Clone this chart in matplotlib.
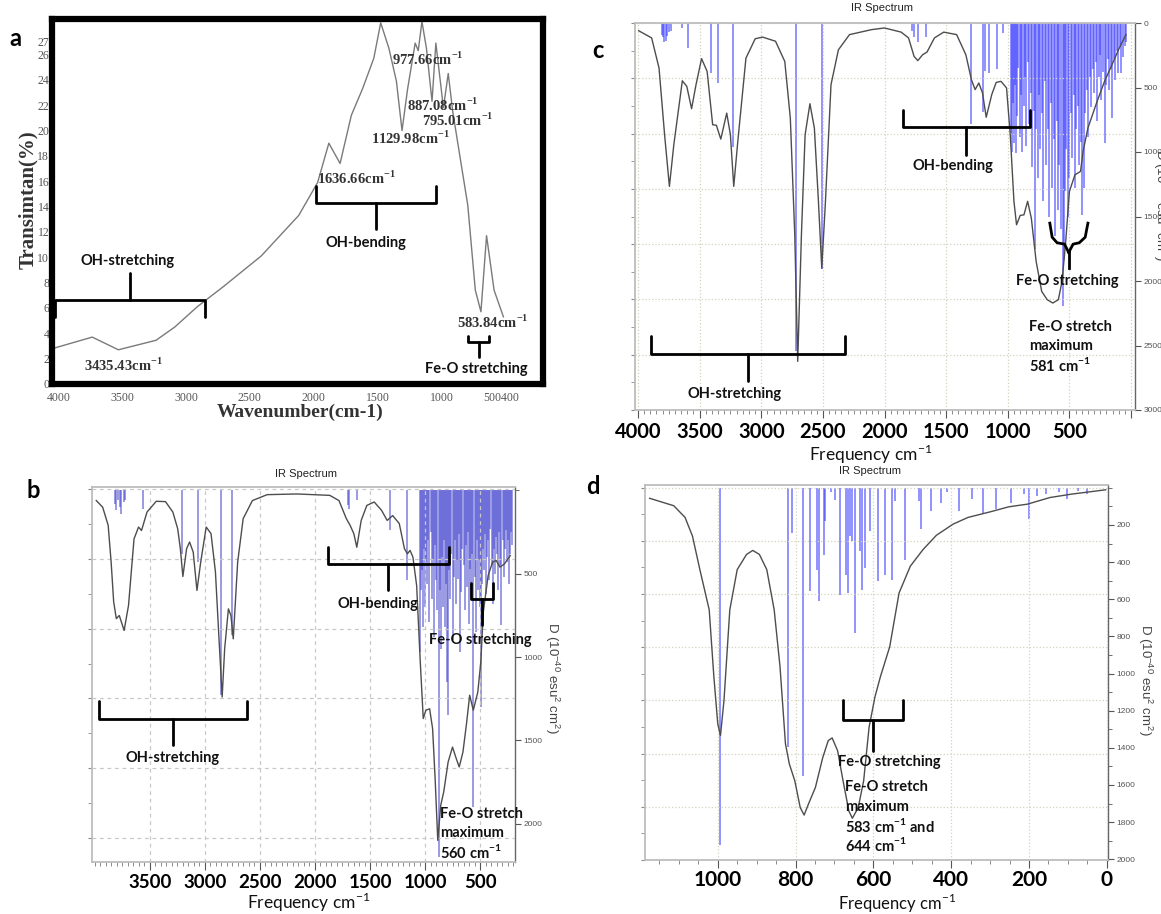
#FTIR spectrum (a) and three calculated IR spectra (b, c, d) laid out in a 2x2 figure

import numpy as np
import matplotlib
matplotlib.use("Agg")
from matplotlib import pyplot as plt
from matplotlib.ticker import MultipleLocator


#Figure size in pixels
W, H = 1161, 914

SANS = ["Lato", "DejaVu Sans"]
SERIF = ["Liberation Serif", "DejaVu Serif"]
ARIAL = ["Liberation Sans", "DejaVu Sans"]
SUP1 = r"$^{\mathregular{-1}}$"


#Panel a: measured transmittance (%) against wavenumber
a_wn = [4044, 3735, 3530, 3235, 3088, 2912, 2706, 2412, 2118, 1970, 1882, 1794, 1706, 1618, 1530,
        1476, 1412, 1353, 1309, 1265, 1206, 1182, 1153, 1118, 1074, 1044, 985, 947, 912, 794,
        735, 691, 647, 588, 515]
a_T = [2.8, 3.7, 2.7, 3.45, 4.5, 6.1, 7.7, 10.1, 13.3, 15.9, 19.0, 17.4, 21.2, 23.3, 25.7,
       28.5, 26.5, 23.9, 20.0, 23.3, 26.9, 26.3, 28.6, 26.5, 22.3, 26.9, 21.8, 24.5, 21.5, 14.1,
       7.4, 5.7, 11.7, 7.4, 5.3]
a_xticks = [4000, 3500, 3000, 2500, 2000, 1500, 1000, 530]
a_xticklabels = ["4000", "3500", "3000", "2500", "2000", "1500", "1000", "500400"]
a_yticks = [0, 2, 4, 6, 8, 10, 12, 14, 16, 18, 20, 22, 24, 26, 27]
#peak labels: text, wavenumber, transmittance
a_peak_text = ["977.66", "887.08", "795.01", "1129.98", "1636.66", "3435.43", "583.84"]
a_peak_x = [1388, 1270, 1153, 1550, 1971, 3800, 882]
a_peak_y = [25.6, 22.0, 20.8, 19.4, 16.2, 1.45, 4.85]


#Panel b: curve (left scale) and stick intensities D (right scale)
b_wn = [3988, 3930, 3880, 3853, 3830, 3806, 3779, 3735, 3695, 3645, 3604, 3577, 3527, 3443, 3359,
        3292, 3248, 3224, 3201, 3167, 3140, 3107, 3073, 3039, 2989, 2945, 2905, 2871, 2844, 2821,
        2787, 2764, 2743, 2703, 2653, 2569, 2435, 2165, 1866, 1782, 1715, 1681, 1647, 1620, 1580,
        1529, 1462, 1395, 1344, 1294, 1234, 1187, 1160, 1136, 1110, 1076, 1043, 1016, 992, 958,
        931, 908, 884, 857, 830, 790, 750, 716, 689, 655, 621, 594, 561, 520, 493,
        470, 426, 386, 353, 319, 278, 225]
b_v = [0.32, 0.51, 1.03, 2.09, 3.23, 3.71, 3.62, 4.05, 3.33, 1.42, 1.08, 1.18, 0.65, 0.34, 0.35,
       0.65, 1.13, 1.70, 2.50, 1.70, 1.51, 1.80, 2.90, 2.09, 1.08, 1.27, 2.37, 4.38, 5.96, 4.57,
       3.43, 3.62, 4.29, 2.09, 0.84, 0.32, 0.15, 0.13, 0.17, 0.32, 0.84, 1.03, 1.27, 1.66, 0.89,
       0.46, 0.36, 0.60, 0.89, 0.75, 0.98, 1.70, 1.85, 1.75, 1.94, 2.76, 4.96, 6.58, 6.34, 6.30,
       6.87, 8.31, 10.08, 9.07, 8.69, 7.83, 7.40, 7.73, 7.97, 7.54, 6.68, 5.91, 6.34, 5.82, 4.96,
       3.52, 2.47, 2.09, 2.04, 2.23, 2.14, 1.90]
b_stick_wn = [3815, 3805, 3790, 3775, 3760, 3740, 3730, 3560, 3210, 3060, 2850, 2750, 1700, 1690,
              1620, 1320, 1160,
              1045, 1040, 1030, 1020, 1010, 1000, 990, 980, 970, 960,
              950, 940, 930, 920, 910, 900, 890, 877, 865, 855,
              845, 835, 825, 815, 805, 797, 790, 780, 770, 760,
              750, 740, 730, 720, 710, 700, 690, 680, 670, 660,
              650, 640, 630, 620, 610, 600, 590, 580, 570, 561,
              550, 540, 530, 520, 510, 500, 493, 485, 475, 465,
              455, 445, 435, 425, 415, 405, 395, 385, 375, 365,
              355, 345, 335, 325, 315, 305, 295, 285, 275, 265,
              255, 245, 235, 225, 215, 205]
b_stick_D = [80, 120, 60, 100, 140, 70, 60, 110, 380, 430, 1230, 870, 90, 110,
             60, 240, 540,
             970, 600, 480, 820, 350, 700, 430, 560, 300, 790,
             250, 650, 420, 880, 330, 540, 720, 2200, 600, 950,
             400, 700, 300, 820, 560, 1150, 1350, 480, 650, 380,
             900, 520, 300, 680, 420, 530, 260, 970, 610, 350,
             450, 720, 330, 580, 250, 800, 470, 640, 380, 1900,
             520, 850, 300, 600, 420, 700, 1300, 560, 350, 480,
             260, 620, 400, 300, 540, 230, 450, 680, 350, 500,
             280, 380, 600, 250, 450, 810, 300, 520, 350, 240,
             430, 300, 560, 380, 250, 330]


#Panel c
c_wn = [3994, 3889, 3829, 3784, 3745, 3709, 3640, 3604, 3565, 3529, 3484, 3439, 3394, 3364, 3328,
        3280, 3250, 3223, 3190, 3124, 3049, 2989, 2884, 2809, 2764, 2728, 2704, 2674, 2644, 2605,
        2569, 2536, 2509, 2479, 2434, 2374, 2284, 2105, 2000, 1865, 1805, 1760, 1730, 1691, 1655,
        1595, 1520, 1415, 1340, 1295, 1265, 1235, 1205, 1175, 1130, 1094, 1055, 1010, 980, 950,
        929, 899, 869, 839, 809, 770, 725, 680, 635, 590, 560, 530, 500, 455, 410,
        389, 350, 275, 215, 155, 95, 41]
c_v = [0.28, 0.54, 1.63, 4.04, 5.91, 4.40, 2.09, 2.29, 3.10, 2.23, 1.29, 1.75, 3.68, 3.70, 4.20,
       3.26, 4.04, 5.91, 4.28, 1.27, 0.57, 0.51, 0.66, 1.39, 3.44, 7.66, 12.24, 7.66, 4.04, 2.92,
       3.80, 6.45, 8.87, 6.45, 2.23, 0.97, 0.42, 0.24, 0.18, 0.33, 0.54, 1.21, 1.36, 1.15, 1.05,
       0.54, 0.33, 0.42, 1.15, 2.05, 2.41, 2.17, 2.53, 3.41, 2.59, 2.15, 2.11, 2.35, 4.04, 6.45,
       7.30, 6.96, 6.94, 6.45, 7.06, 8.62, 9.71, 10.01, 10.13, 10.01, 9.35, 7.90, 6.09, 5.49, 5.37,
       4.64, 3.80, 2.83, 2.11, 1.51, 0.90, 0.42]
c_stick_wn = [3805, 3795, 3785, 3775, 3765, 3750, 3730, 3640, 3595, 3410, 3350, 3230, 2720, 2510,
              1775, 1760, 1725, 1660, 1295, 1205, 1185, 1150, 1085, 1035,
              975, 966, 958, 950, 941, 933, 922, 914, 903, 895,
              884, 872, 861, 850, 838, 826, 815, 803, 790, 777,
              770, 758, 746, 735, 723, 712, 700, 688, 676, 664,
              652, 640, 628, 616, 604, 593, 581, 570, 555, 546,
              535, 524, 512, 500, 490, 478, 466, 455, 443, 432,
              420, 409, 395, 384, 372, 360, 348, 336, 324, 312,
              300, 288, 276, 264, 252, 240, 228, 215, 203, 190,
              178, 165, 152, 140, 128, 115, 103, 90, 78, 65,
              52, 40]
c_stick_D = [90, 110, 150, 140, 100, 70, 60, 40, 195, 390, 465, 960, 2540, 1905,
             65, 105, 145, 105, 780, 690, 375, 390, 360, 80,
             850, 1000, 620, 930, 480, 1010, 720, 350, 880, 560,
             1000, 640, 420, 950, 300, 780, 540, 1120, 680, 1750,
             820, 1200, 560, 980, 700, 1380, 450, 1100, 820, 1500,
             620, 1280, 900, 1650, 760, 1450, 1100, 1600, 2190, 1840,
             1300, 980, 1500, 1200, 700, 1050, 560, 1280, 820, 640,
             1100, 920, 1490, 1280, 700, 520, 880, 420, 650, 360,
             540, 300, 760, 420, 250, 600, 380, 930, 480, 280,
             520, 360, 740, 280, 440, 220, 390, 180, 390, 260,
             180, 150]


#Panel d
d_wn = [1175, 1113, 1084, 1065, 1046, 1022, 1010, 1000, 993, 984, 969, 950, 926, 910, 893,
        874, 855, 840, 826, 816, 802, 788, 778, 767, 749, 730, 716, 706, 692, 678,
        663, 654, 639, 625, 611, 596, 582, 558, 534, 505, 472, 438, 395, 357, 300,
        252, 204, 146, 89, 3]
d_v = [0.40, 0.68, 1.12, 1.82, 3.08, 4.59, 7.11, 8.88, 9.32, 8.0, 4.59, 3.08, 2.51, 2.36, 2.51,
       3.08, 4.59, 6.73, 9.63, 10.39, 11.02, 12.03, 12.31, 11.90, 11.27, 10.14, 9.51, 9.41, 9.89, 11.02,
       12.16, 12.43, 12.03, 11.02, 9.0, 7.87, 7.11, 5.98, 3.96, 2.95, 2.32, 1.79, 1.37, 1.12, 0.91,
       0.72, 0.62, 0.37, 0.24, 0.08]
d_stick_wn = [995, 819, 809, 781, 764, 744, 739, 728, 724, 709, 699, 687, 671, 665, 661, 655, 647,
              634, 630, 622, 608, 587, 569, 553, 544, 520, 483, 477, 453, 426, 410, 379, 347, 319,
              285, 247, 213, 201, 180, 156, 122, 103, 75, 51]
d_stick_D = [1922, 1398, 246, 1552, 555, 441, 612, 360, 179, 25, 65, 576, 468, 567, 260, 287, 784,
             341, 549, 432, 233, 504, 468, 499, 70, 390, 70, 224, 125, 80, 25, 125, 61, 143,
             116, 80, 34, 170, 43, 34, 25, 61, 16, 34]


fig = plt.figure(figsize=(W / 100, H / 100), dpi=100)


#Helpers working in pixel coordinates of the figure
def box(x0, y0, x1, y1):
    return [x0 / W, 1 - y1 / H, (x1 - x0) / W, (y1 - y0) / H]


def ftext(x, y, s, **kw):
    fig.text(x / W, 1 - y / H, s, **kw)


#Square bracket with a stem in the middle, drawn in data coordinates
def brace(ax, x0, x1, ytip, ybar, ystem, lw=2.0):
    xc = (x0 + x1) / 2
    ax.plot([x0, x0, x1, x1], [ytip, ybar, ybar, ytip], color="black", lw=lw,
            solid_joinstyle="round", solid_capstyle="round")
    ax.plot([xc, xc], [ybar, ystem], color="black", lw=lw, solid_capstyle="round")


def note(ax, x, y, s, ha="center", size=10.5):
    ax.text(x, y, s, ha=ha, va="center", fontsize=size, fontweight="bold",
            family=SANS, color="#111111")


#One text per line so that the superscripts do not stretch the line spacing
def note_lines(ax, x, y0, dy, lines):
    for i, s in enumerate(lines):
        note(ax, x, y0 + i * dy, s, ha="left")


#Calculated IR spectrum panel: curve on left scale, blue sticks on right D scale
def ir_panel(rect, xlim, vlim, dlim, xmajor, xlabels, xminor, dticks, dminor, lab_size,
             wn, v, s_wn, s_D, stick_color, grid_color, grid_style):
    ax = fig.add_axes(rect)
    ax2 = ax.twinx()
    ax.set_zorder(ax2.get_zorder() + 1)
    ax.patch.set_visible(False)

    ax2.vlines(s_wn, 0, s_D, colors=stick_color, lw=1.3, alpha=0.6)
    ax.plot(wn, v, color="#4d4d4d", lw=1.0)

    ax.set_xlim(*xlim)
    ax.set_ylim(*vlim)
    ax2.set_ylim(*dlim)

    ax.set_xticks(xmajor)
    ax.set_xticklabels(xlabels)
    ax.xaxis.set_minor_locator(MultipleLocator(xminor))
    ax.yaxis.set_major_locator(MultipleLocator(2))
    ax.yaxis.set_minor_locator(MultipleLocator(1))
    ax.set_yticklabels([])
    ax.grid(True, which="major", color=grid_color, ls=grid_style, lw=0.9)

    ax.tick_params(axis="x", which="major", length=6, color="#555555", labelsize=lab_size, pad=3)
    ax.tick_params(axis="x", which="minor", length=3, color="#777777")
    ax.tick_params(axis="y", which="both", length=3, color="#888888")
    for lbl in ax.get_xticklabels():
        lbl.set_family(SANS)
        lbl.set_fontweight("bold")

    ax2.set_yticks(dticks)
    ax2.yaxis.set_minor_locator(MultipleLocator(dminor))
    ax2.tick_params(axis="y", which="major", length=4, color="#555555", labelsize=6,
                    labelcolor="#555555", pad=2)
    ax2.tick_params(axis="y", which="minor", length=3, color="#555555")
    for lbl in ax2.get_yticklabels():
        lbl.set_family(ARIAL)

    for side in ["top", "left", "bottom"]:
        ax.spines[side].set_color("#bdbdbd")
        ax.spines[side].set_linewidth(1.3)
        ax2.spines[side].set_visible(False)
    ax.spines["right"].set_visible(False)
    ax2.spines["right"].set_color("#666666")
    ax2.spines["right"].set_linewidth(1.0)
    return ax, ax2


D_LABEL = ("D (10$^{\\mathregular{-40}}$ esu$^{\\mathregular{2}}$ cm$^{\\mathregular{2}}$)")


#---------------- Panel a ----------------
axa = fig.add_axes(box(52, 19, 543, 384))
axa.plot(a_wn, a_T, color="#7a7a7a", lw=1.0)
axa.set_xlim(4050, 205)
axa.set_ylim(0, 28.8)
axa.set_xticks(a_xticks)
axa.set_xticklabels(a_xticklabels)
axa.set_yticks(a_yticks)
axa.tick_params(length=0, labelsize=8.5, labelcolor="#555555")
axa.tick_params(axis="x", pad=6)
axa.tick_params(axis="y", pad=2)
plt.setp(axa.get_xticklabels() + axa.get_yticklabels(), family=SERIF)
for s in axa.spines.values():
    s.set_linewidth(4.5)
    s.set_color("black")

for t, x, y in zip(a_peak_text, a_peak_x, a_peak_y):
    axa.text(x, y, t + "cm" + SUP1, ha="left", va="center", fontsize=10.5,
             fontweight="bold", family=SERIF, color="#333333")

brace(axa, 4030, 2853, 5.3, 6.6, 8.75)
note(axa, 3456, 9.7, "OH-stretching")
brace(axa, 1985, 1044, 15.65, 14.3, 12.2)
note(axa, 1594, 11.1, "OH-bending")
brace(axa, 794, 624, 3.77, 3.3, 2.1)
note(axa, 729, 1.2, "Fe-O stretching")

ftext(28, 200, "Transimtan(%)", rotation=90, ha="center", va="center", fontsize=15,
      fontweight="bold", family=SERIF, color="#333333")
ftext(300, 412, "Wavenumber(cm-1)", ha="center", va="center", fontsize=14,
      fontweight="bold", family=SERIF, color="#333333")
ftext(15, 38, "a", ha="center", va="center", fontsize=17, fontweight="bold", family=SANS)


#---------------- Panel c ----------------
axc, axc2 = ir_panel(box(635, 23, 1135, 410), (4024, -32), (14, 0), (3000, 0),
                     [4000, 3500, 3000, 2500, 2000, 1500, 1000, 500, 0],
                     ["4000", "3500", "3000", "2500", "2000", "1500", "1000", "500", ""],
                     50, [0, 500, 1000, 1500, 2000, 2500, 3000], 500, 14.5,
                     c_wn, c_v, c_stick_wn, c_stick_D, "#3b3bff", "#d2d2c0", ":")
brace(axc, 1850, 820, 3.14, 3.78, 4.76)
note(axc, 1445, 5.19, "OH-bending")
brace(axc, 3895, 2323, 11.34, 11.98, 12.94)
note(axc, 3220, 13.43, "OH-stretching")
axc.plot([659, 640, 600, 540, 506], [7.24, 7.75, 7.95, 8.0, 8.3], color="black", lw=2.0)
axc.plot([350, 372, 420, 470, 506], [7.24, 7.75, 7.95, 8.0, 8.3], color="black", lw=2.0)
axc.plot([506, 506], [8.3, 8.87], color="black", lw=2.0)
note(axc, 515, 9.32, "Fe-O stretching")
note_lines(axc, 830, 11.0, 0.69, ["Fe-O stretch", "maximum", "581 cm" + SUP1])

ftext(882, 8, "IR Spectrum", ha="center", va="center", fontsize=8, family=ARIAL, color="#222222")
ftext(871, 454, "Frequency cm" + SUP1, ha="center", va="center", fontsize=12.5,
      family=SANS, color="#111111")
ftext(1160, 205, D_LABEL, rotation=270, ha="center", va="center", fontsize=9.5,
      family=ARIAL, color="#444444")
ftext(598, 50, "c", ha="center", va="center", fontsize=17, fontweight="bold", family=SANS)


#---------------- Panel b ----------------
axb, axb2 = ir_panel(box(92, 487, 515, 862), (4027, 182), (10.7, -0.07), (2230, -20),
                     [3500, 3000, 2500, 2000, 1500, 1000, 500],
                     ["3500", "3000", "2500", "2000", "1500", "1000", "500"],
                     50, [500, 1000, 1500, 2000], 500, 13.5,
                     b_wn, b_v, b_stick_wn, b_stick_D, "#4a4ad0", "#c8c8c8", (0, (3, 3)))
brace(axb, 1886, 786, 1.66, 2.13, 2.9)
note(axb, 1425, 3.28, "OH-bending")
brace(axb, 3964, 2619, 6.09, 6.58, 7.35)
note(axb, 3298, 7.71, "OH-stretching")
brace(axb, 578, 382, 2.68, 3.16, 3.9)
note(axb, 500, 4.33, "Fe-O stretching")
note_lines(axb, 860, 9.33, 0.54, ["Fe-O stretch", "maximum", "560 cm" + SUP1])

ftext(306, 474, "IR Spectrum", ha="center", va="center", fontsize=8, family=ARIAL, color="#222222")
ftext(309, 902, "Frequency cm" + SUP1, ha="center", va="center", fontsize=12.5,
      family=SANS, color="#111111")
ftext(552, 678, D_LABEL, rotation=270, ha="center", va="center", fontsize=9.5,
      family=ARIAL, color="#444444")
ftext(33, 490, "b", ha="center", va="center", fontsize=17, fontweight="bold", family=SANS)


#---------------- Panel d ----------------
axd, axd2 = ir_panel(box(645, 485, 1108, 860), (1187, -3), (14.0, -0.1), (2004, -15),
                     [1000, 800, 600, 400, 200, 0],
                     ["1000", "800", "600", "400", "200", "0"],
                     50, [200, 400, 600, 800, 1000, 1200, 1400, 1600, 1800, 2000], 100, 15,
                     d_wn, d_v, d_stick_wn, d_stick_D, "#3b3bff", "#d2d2c0", ":")
axd.tick_params(axis="x", which="major", pad=1)
brace(axd, 678, 524, 8.0, 8.75, 9.9)
note(axd, 558, 10.33, "Fe-O stretching")
note_lines(axd, 673, 11.27, 0.72, ["Fe-O stretch", "maximum", "583 cm" + SUP1 + " and",
                                   "644 cm" + SUP1])

ftext(870, 471, "IR Spectrum", ha="center", va="center", fontsize=8, family=ARIAL, color="#222222")
ftext(897, 903, "Frequency cm" + SUP1, ha="center", va="center", fontsize=12,
      family=SANS, color="#111111")
ftext(1145, 680, D_LABEL, rotation=270, ha="center", va="center", fontsize=9.5,
      family=ARIAL, color="#444444")
ftext(593, 487, "d", ha="center", va="center", fontsize=17, fontweight="bold", family=SANS)


fig.savefig("out.png", dpi=100)
